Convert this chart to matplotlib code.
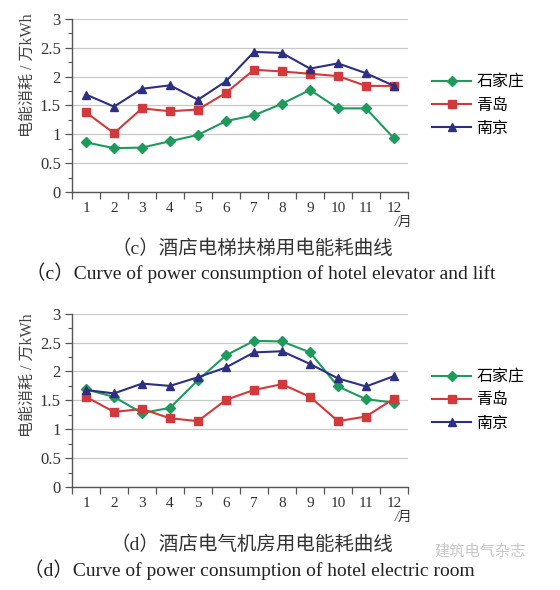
import numpy as np
import matplotlib
matplotlib.use("Agg")
from matplotlib import pyplot as plt
from matplotlib.ticker import FixedLocator

plt.rcParams['font.family'] = ['Liberation Serif', 'Noto Sans CJK SC']

MONTHS = list(range(1, 13))
CITIES = ["石家庄", "青岛", "南京"]
Y_TICKS = [0, 0.5, 1, 1.5, 2, 2.5, 3]
Y_LABELS = ["0", "0.5", "1", "1.5", "2", "2.5", "3"]

# (c) hotel elevator and lift
LIFT_SJZ = [0.86, 0.76, 0.77, 0.88, 0.99, 1.23, 1.33, 1.53, 1.77, 1.45, 1.45, 0.93]
LIFT_QD = [1.38, 1.02, 1.45, 1.40, 1.43, 1.72, 2.12, 2.09, 2.05, 2.01, 1.84, 1.84]
LIFT_NJ = [1.69, 1.48, 1.79, 1.85, 1.60, 1.92, 2.43, 2.41, 2.14, 2.23, 2.06, 1.84]

# (d) hotel electric room
ROOM_SJZ = [1.69, 1.56, 1.28, 1.37, 1.85, 2.28, 2.53, 2.52, 2.33, 1.74, 1.52, 1.46]
ROOM_QD = [1.56, 1.30, 1.35, 1.19, 1.14, 1.51, 1.68, 1.78, 1.56, 1.14, 1.22, 1.53]
ROOM_NJ = [1.68, 1.62, 1.79, 1.75, 1.90, 2.07, 2.33, 2.35, 2.13, 1.88, 1.74, 1.92]

COLORS = ["#1e9a5c", "#d03a3c", "#2d2f80"]
MARKERS = ["D", "s", "^"]
MSIZE = [5.5, 5.5, 5.5]

fig = plt.figure(figsize=(5.6, 5.9), dpi=100)


def draw(rect, series, ylab_y):
    ax = fig.add_axes(rect)
    for i, vals in enumerate(series):
        ax.plot(MONTHS, vals, color=COLORS[i], marker=MARKERS[i], ms=MSIZE[i],
                lw=1.5, label=CITIES[i])
    ax.set_xlim(0.5, 12.5)
    ax.set_ylim(0, 3)
    ax.yaxis.set_major_locator(FixedLocator(Y_TICKS))
    ax.yaxis.set_minor_locator(FixedLocator(np.arange(0.25, 3, 0.5)))
    ax.set_yticklabels(Y_LABELS)
    ax.xaxis.set_major_locator(FixedLocator(MONTHS))
    ax.xaxis.set_minor_locator(FixedLocator(np.arange(0.5, 13, 1)))
    ax.tick_params(axis='x', which='major', length=0, labelsize=11, pad=7, colors='#333333')
    ax.tick_params(axis='x', which='minor', length=5, width=0.9, color='#555555')
    ax.tick_params(axis='y', which='major', length=5, width=0.9, labelsize=12, color='#555555',
                   labelcolor='#333333', pad=3)
    ax.tick_params(axis='y', which='minor', length=3, width=0.8, color='#555555')
    ax.grid(axis='y', color='#c8c8c8', lw=0.9)
    ax.set_axisbelow(True)
    for s in ['top', 'right']:
        ax.spines[s].set_visible(False)
    for s in ['left', 'bottom']:
        ax.spines[s].set_color('#555555')
        ax.spines[s].set_linewidth(1.0)
    ax.text(12.35, -0.42, "/月", fontsize=10, color='#333333', ha='center', va='top',
            style='italic')
    fig.text(0.05, ylab_y, "电能消耗 / 万kWh", rotation=90, ha='center', va='center',
             fontsize=11.5, color='#444444')
    ax.legend(loc='center left', bbox_to_anchor=(1.03, 0.5), frameon=False,
              fontsize=11.5, handlelength=2.4, labelspacing=0.45, handletextpad=0.35)
    return ax


draw([0.1286, 0.6746, 0.6, 0.2932], [LIFT_SJZ, LIFT_QD, LIFT_NJ], 1 - 75 / 590)
draw([0.1286, 0.1746, 0.6, 0.2937], [ROOM_SJZ, ROOM_QD, ROOM_NJ], 1 - 375 / 590)

fig.text(0.45, 1 - 249 / 590, "（c）酒店电梯扶梯用电能耗曲线", ha='center', va='center',
         fontsize=14, color='#333333')
fig.text(0.465, 1 - 273 / 590, "（c）Curve of power consumption of hotel elevator and lift",
         ha='center', va='center', fontsize=14, color='#222222')
fig.text(0.45, 1 - 545 / 590, "（d）酒店电气机房用电能耗曲线", ha='center', va='center',
         fontsize=14, color='#333333')
fig.text(0.857, 1 - 551 / 590, "建筑电气杂志", ha='center', va='center',
         fontsize=11, color='#c8c8c8', family=['Noto Sans CJK SC'])
fig.text(0.445, 1 - 570 / 590, "（d）Curve of power consumption of hotel electric room",
         ha='center', va='center', fontsize=14, color='#222222')

fig.savefig("out.png", dpi=100, facecolor='white')
